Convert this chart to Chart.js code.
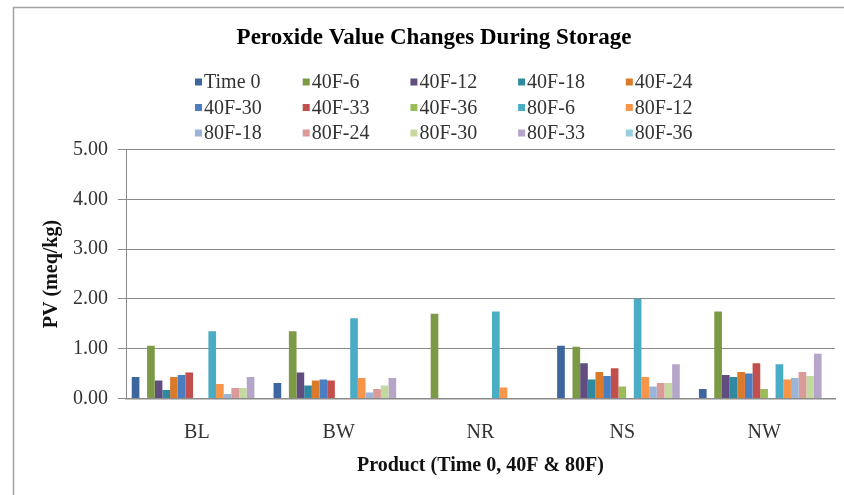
<!DOCTYPE html>
<html>
<head>
<meta charset="utf-8">
<title>Peroxide Value Changes During Storage</title>
<script src="https://cdn.jsdelivr.net/npm/chart.js@4.4.1/dist/chart.umd.min.js"></script>
<style>
  html, body { margin: 0; padding: 0; background: #ffffff; }
  #wrap { width: 844px; height: 495px; position: relative; }
</style>
</head>
<body>
<div id="wrap"><canvas id="pvChart" width="844" height="495"></canvas></div>
<script>
// Products tested
const products = ['BL', 'BW', 'NR', 'NS', 'NW'];

// Storage condition / month for each series
const seriesNames = [
  'Time 0',
  '40F-6', '40F-12', '40F-18', '40F-24', '40F-30', '40F-33', '40F-36',
  '80F-6', '80F-12', '80F-18', '80F-24', '80F-30', '80F-33', '80F-36'
];

// Peroxide value (meq/kg) per series, one entry per product (null = not measured)
const time0  = [0.43, 0.31, null, 1.06, 0.19];
const f40m6  = [1.06, 1.35, 1.70, 1.04, 1.75];
const f40m12 = [0.36, 0.52, null, 0.71, 0.47];
const f40m18 = [0.17, 0.26, null, 0.38, 0.43];
const f40m24 = [0.43, 0.36, null, 0.53, 0.53];
const f40m30 = [0.47, 0.38, null, 0.45, 0.50];
const f40m33 = [0.52, 0.36, null, 0.61, 0.71];
const f40m36 = [null, null, null, 0.24, 0.19];
const f80m6  = [1.35, 1.61, 1.75, 2.00, 0.69];
const f80m12 = [0.29, 0.41, 0.22, 0.43, 0.38];
const f80m18 = [0.09, 0.12, null, 0.24, 0.41];
const f80m24 = [0.21, 0.19, null, 0.31, 0.53];
const f80m30 = [0.21, 0.26, null, 0.31, 0.45];
const f80m33 = [0.43, 0.41, null, 0.69, 0.90];
const f80m36 = [null, null, null, null, null];

const seriesValues = [
  time0,
  f40m6, f40m12, f40m18, f40m24, f40m30, f40m33, f40m36,
  f80m6, f80m12, f80m18, f80m24, f80m30, f80m33, f80m36
];

const seriesColors = [
  '#3d669f',
  '#7c9a45', '#614d80', '#2f8aa1', '#dc7a2c', '#4a7ec0', '#c24f4c', '#9bbd59',
  '#4bacc6', '#f7964a', '#9ab5d8', '#d99a98', '#c5d8a0', '#b5a6c9', '#98cfdd'
];

// Y axis ticks
const pvTicks = [0, 1, 2, 3, 4, 5];

// Empty slots that keep the gap after "Time 0" and after "40F-36"
const spacerAfter = [0, 7];

const datasets = [];
seriesNames.forEach((name, i) => {
  datasets.push({
    label: name,
    data: seriesValues[i],
    backgroundColor: seriesColors[i],
    borderWidth: 0
  });
  if (spacerAfter.includes(i)) {
    datasets.push({
      label: '',
      spacer: true,
      data: products.map(() => null),
      backgroundColor: 'rgba(0,0,0,0)',
      borderWidth: 0
    });
  }
});

// White page with the chart frame (left and top edges)
const frame = {
  id: 'frame',
  beforeDraw(chart) {
    const ctx = chart.ctx;
    ctx.save();
    ctx.fillStyle = '#ffffff';
    ctx.fillRect(0, 0, chart.width, chart.height);
    ctx.strokeStyle = '#a3a3a3';
    ctx.lineWidth = 1.5;
    ctx.beginPath();
    ctx.moveTo(13.5, chart.height + 2);
    ctx.lineTo(13.5, 7.5);
    ctx.lineTo(chart.width + 2, 7.5);
    ctx.stroke();
    ctx.restore();
  }
};

// Legend laid out in a fixed grid of columns
const gridLegend = {
  id: 'gridLegend',
  afterDraw(chart, args, opts) {
    const ctx = chart.ctx;
    const items = chart.data.datasets.filter(d => !d.spacer);
    ctx.save();
    ctx.font = opts.font;
    ctx.textBaseline = 'middle';
    ctx.textAlign = 'left';
    items.forEach((ds, i) => {
      const col = i % opts.columns;
      const row = Math.floor(i / opts.columns);
      const x = opts.left + col * opts.colWidth;
      const y = opts.top + row * opts.rowHeight;
      ctx.fillStyle = ds.backgroundColor;
      ctx.fillRect(x, y - opts.box / 2, opts.box, opts.box);
      ctx.fillStyle = opts.color;
      ctx.fillText(ds.label, x + opts.box + 2, y + 1);
    });
    ctx.restore();
  }
};

const serif = '"Liberation Serif", "Times New Roman", serif';

new Chart(document.getElementById('pvChart'), {
  type: 'bar',
  data: { labels: products, datasets },
  plugins: [frame, gridLegend],
  options: {
    responsive: false,
    devicePixelRatio: 1,
    animation: false,
    layout: { padding: { left: 33, right: 9, top: 0, bottom: 0 } },
    datasets: {
      bar: { categoryPercentage: 17 / 18.5, barPercentage: 1.0 }
    },
    plugins: {
      legend: { display: false },
      tooltip: { enabled: false },
      title: {
        display: true,
        text: 'Peroxide Value Changes During Storage',
        color: '#000000',
        font: { family: serif, size: 23, weight: 'bold' },
        padding: { top: 24, bottom: 98 }
      },
      gridLegend: {
        font: '20px ' + serif,
        color: '#333333',
        columns: 5,
        left: 195,
        top: 82,
        colWidth: 107.7,
        rowHeight: 25.5,
        box: 7
      }
    },
    scales: {
      x: {
        grid: { display: false, drawTicks: false },
        border: { display: true, color: '#8a8a8a', width: 1.5 },
        ticks: {
          color: '#333333',
          font: { family: serif, size: 20 },
          padding: 22,
          maxRotation: 0
        },
        title: {
          display: true,
          text: 'Product (Time 0, 40F & 80F)',
          color: '#111111',
          font: { family: serif, size: 20, weight: 'bold' },
          padding: { top: 17, bottom: 17 }
        },
        afterFit(scale) { scale.height = 96.5; }
      },
      y: {
        min: 0,
        max: 5,
        afterBuildTicks(scale) { scale.ticks = pvTicks.map(v => ({ value: v })); },
        grid: { color: '#8a8a8a', lineWidth: 1, tickLength: 8 },
        border: { display: true, color: '#8a8a8a', width: 1 },
        ticks: {
          color: '#333333',
          font: { family: serif, size: 20 },
          padding: 10,
          callback: v => Number(v).toFixed(2)
        },
        title: {
          display: true,
          text: 'PV (meq/kg)',
          color: '#111111',
          font: { family: serif, size: 20, weight: 'bold' },
          padding: { top: 7, bottom: 7 }
        },
        afterFit(scale) { scale.width = 93; }
      }
    }
  }
});
</script>
</body>
</html>
